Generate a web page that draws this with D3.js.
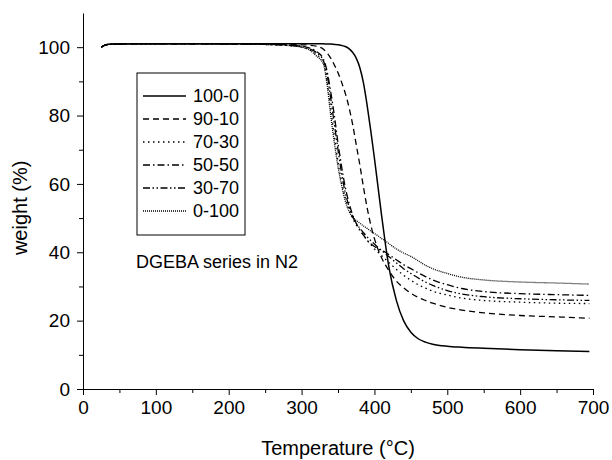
<!DOCTYPE html>
<html>
<head>
<meta charset="utf-8">
<script src="https://cdn.jsdelivr.net/npm/d3@7"></script>
<style>
  body { margin: 0; background: #fff; }
  text { font-family: "Liberation Sans", Arial, sans-serif; fill: #000; }
</style>
</head>
<body>
<div id="chart"></div>
<script>
// TGA curves, DGEBA series in N2
var temps = [25, 30, 40, 100, 150, 200, 250, 280, 300, 310, 320, 330, 335, 340, 345, 350, 355, 360, 365, 370,
             375, 380, 385, 390, 395, 400, 405, 410, 415, 420, 430, 440, 450, 460, 470, 480, 500, 520, 550, 600, 650, 695];

var w_100_0 = [100.0, 100.6, 100.9, 101, 101, 101, 101, 101, 101, 101, 101, 101, 100.9, 100.9, 100.8, 100.7, 100.5, 100.2, 99.6, 98.5,
               96.8, 94, 89.5, 83, 75.5, 67.5, 59, 50.5, 42.5, 35.5, 26, 20, 16.6, 14.7, 13.7, 13.1, 12.5, 12.2, 11.9, 11.5, 11.2, 11.0];
var w_90_10 = [100.0, 100.6, 100.9, 101, 101, 101, 100.9, 100.8, 100.7, 100.6, 100.3, 99.4, 98.3, 96.8, 94.8, 92.5, 89.7, 86.5, 82.5, 77.5,
               71.5, 65.5, 59, 53, 48, 44, 40.8, 38.3, 36.3, 34.6, 31.6, 29.6, 28, 26.8, 25.9, 25.1, 23.9, 23.1, 22.3, 21.5, 21.1, 20.7];
var w_70_30 = [100.0, 100.6, 100.9, 101, 101, 100.9, 100.8, 100.5, 100, 99.3, 98, 95.5, 90, 82, 74, 66.5, 60.5, 56, 52.5, 50,
               48, 46.5, 45, 43.5, 42.3, 41, 40, 39, 38, 37, 35, 33.3, 31.8, 30.5, 29.5, 28.6, 27.5, 26.6, 25.9, 25.4, 25.1, 25.0];
var w_50_50 = [100.0, 100.6, 100.9, 101, 101, 100.9, 100.8, 100.6, 100.3, 99.8, 98.8, 96.5, 93, 87, 80, 72, 65, 59, 54.5, 51,
               48.5, 46.5, 45, 43.5, 42.5, 41.7, 41, 40.5, 40, 39.3, 37.8, 36.4, 35.2, 34, 32.9, 31.9, 30.5, 29.4, 28.5, 27.9, 27.6, 27.4];
var w_30_70 = [100.0, 100.6, 100.9, 101, 101, 100.9, 100.8, 100.6, 100.2, 99.6, 98.5, 96, 92, 85, 77.5, 70, 63, 57.5, 53.5, 50.5,
               48.5, 47, 45.7, 44.5, 43.4, 42.4, 41.4, 40.5, 39.6, 38.7, 36.9, 35.2, 33.8, 32.5, 31.3, 30.3, 28.8, 27.8, 27, 26.4, 26.1, 25.9];
var w_0_100 = [100.0, 100.6, 100.9, 101, 101, 100.9, 100.8, 100.5, 100, 99.3, 97.5, 95, 89, 80, 72, 65, 59.5, 55, 52, 50.3,
               49.3, 48.5, 47.7, 47, 46.2, 45.5, 44.8, 44, 43.3, 42.5, 41, 39.8, 38.8, 37.5, 36.2, 35.2, 33.8, 32.7, 31.9, 31.3, 31, 30.7];

var seriesNames = ["100-0", "90-10", "70-30", "50-50", "30-70", "0-100"];
var seriesValues = [w_100_0, w_90_10, w_70_30, w_50_50, w_30_70, w_0_100];
var dashes = [null, "6,4", "1.5,3.5", "7,3,1.5,3", "7,2.5,1.5,2.5,1.5,2.5", "1,1"];

var xTicks = [0, 100, 200, 300, 400, 500, 600, 700];
var yTicks = [0, 20, 40, 60, 80, 100];

var W = 612, H = 460;
var margin = {top: 13, right: 19, bottom: 71, left: 83};

var svg = d3.select("#chart").append("svg")
    .attr("width", W)
    .attr("height", H);

var xScale = d3.scaleLinear().domain([0, 700]).range([margin.left, 593]);
var yScale = d3.scaleLinear().domain([0, 110]).range([389, margin.top]);

// minor ticks first, no labels
svg.append("g")
    .attr("transform", "translate(0,389)")
    .call(d3.axisBottom(xScale).tickValues(d3.range(50, 700, 100)).tickSize(4).tickFormat(""))
    .call(function(g){ g.select(".domain").remove(); });
svg.append("g")
    .attr("transform", "translate(83,0)")
    .call(d3.axisLeft(yScale).tickValues(d3.range(10, 110, 20)).tickSize(4).tickFormat(""))
    .call(function(g){ g.select(".domain").remove(); });

var gX = svg.append("g")
    .attr("transform", "translate(0,389)")
    .call(d3.axisBottom(xScale).tickValues(xTicks).tickSize(6).tickSizeOuter(0).tickPadding(6));
var gY = svg.append("g")
    .attr("transform", "translate(83,0)")
    .call(d3.axisLeft(yScale).tickValues(yTicks).tickSize(6).tickSizeOuter(0).tickPadding(7));

svg.selectAll(".tick line").attr("stroke", "#000");
svg.selectAll(".domain").attr("stroke", "#000");
svg.selectAll(".tick text").style("font-size", "19px").style("font-family", "Liberation Sans, Arial, sans-serif");

var line = d3.line()
    .x(function(d){ return xScale(d[0]); })
    .y(function(d){ return yScale(d[1]); })
    .curve(d3.curveMonotoneX);

seriesValues.forEach(function(vals, i){
    var pts = temps.map(function(t, j){ return [t, vals[j]]; });
    svg.append("path")
        .datum(pts)
        .attr("fill", "none")
        .attr("stroke", "#000")
        .attr("stroke-width", i == 0 ? 1.5 : 1.3)
        .attr("stroke-dasharray", dashes[i])
        .attr("d", line);
});

// legend
var legend = svg.append("g");
legend.append("rect")
    .attr("x", 137).attr("y", 73)
    .attr("width", 108).attr("height", 162)
    .attr("fill", "#fff").attr("stroke", "#000").attr("stroke-width", 1);

var item = legend.selectAll(".item")
    .data(seriesNames)
    .enter().append("g")
    .attr("class", "item")
    .attr("transform", function(d, i){ return "translate(0," + (96 + i * 23) + ")"; });
item.append("line")
    .attr("x1", 143).attr("x2", 186)
    .attr("stroke", "#000")
    .attr("stroke-width", function(d, i){ return i == 0 ? 1.5 : 1.3; })
    .attr("stroke-dasharray", function(d, i){ return dashes[i]; });
item.append("text")
    .attr("x", 193).attr("dy", "0.35em")
    .style("font-size", "18px")
    .text(function(d){ return d; });

svg.append("text")
    .attr("x", 136).attr("y", 268)
    .style("font-size", "18px")
    .text("DGEBA series in N2");

svg.append("text")
    .attr("x", (83 + 593) / 2).attr("y", 455)
    .attr("text-anchor", "middle")
    .style("font-size", "20px")
    .text("Temperature (\u00b0C)");

svg.append("text")
    .attr("transform", "translate(27," + yScale(53) + ") rotate(-90)")
    .attr("text-anchor", "middle")
    .style("font-size", "20px")
    .text("weight (%)");
</script>
</body>
</html>
